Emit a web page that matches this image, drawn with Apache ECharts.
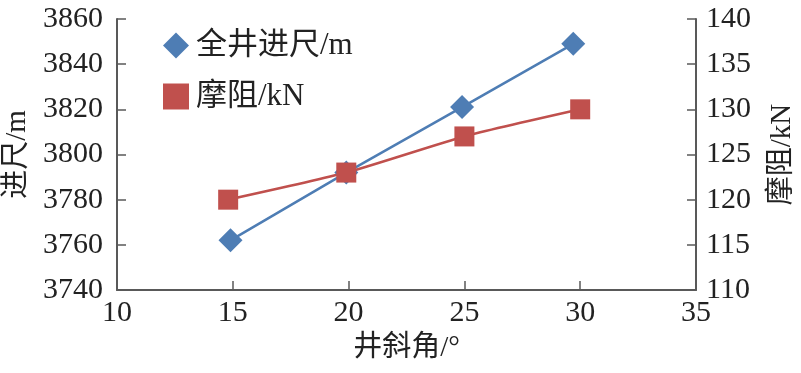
<!DOCTYPE html>
<html>
<head>
<meta charset="utf-8">
<script src="https://cdn.jsdelivr.net/npm/echarts@6/dist/echarts.min.js"></script>
<style>html,body{margin:0;padding:0;background:#fff}#c{width:801px;height:373px}</style>
</head>
<body>
<div id="c"></div>
<script>
// Data
const seriesNames = ['全井进尺/m', '摩阻/kN'];
const footageX = [14.9, 19.9, 24.9, 29.7];
const footageY = [3762, 3792, 3821, 3849];
const dragX = [14.8, 19.9, 25.0, 30.0];
const dragY = [120, 123, 127, 130];
const xName = '井斜角/°';
const yLeftName = '进尺/m';
const yRightName = '摩阻/kN';

const FONT = '"Liberation Serif", "Noto Sans CJK SC", serif';
const AX = '#595959';
const BLUE = '#4E7DB4';
const RED = '#C0504D';

const chart = echarts.init(document.getElementById('c'), null, {renderer: 'canvas'});
const pair = (xs, ys) => xs.map((x, i) => [x, ys[i]]);
const plain = v => String(v);

chart.setOption({
  animation: false,
  backgroundColor: '#fff',
  textStyle: {fontFamily: FONT},
  grid: {left: 117, right: 105, top: 19, bottom: 83, containLabel: false, outerBoundsMode: 'none'},
  legend: {
    orient: 'vertical', left: 158, top: 25, itemGap: 20,
    itemWidth: 26, itemHeight: 26,
    textStyle: {fontFamily: FONT, fontSize: 31, color: '#222', padding: [0,0,0,2]},
    data: [{name: seriesNames[0], icon: 'diamond'}, {name: seriesNames[1], icon: 'rect'}]
  },
  xAxis: {
    type: 'value', min: 10, max: 35, interval: 5,
    name: xName, nameLocation: 'middle', nameGap: 44,
    nameTextStyle: {fontFamily: FONT, fontSize: 29, color: '#222'},
    axisLine: {lineStyle: {color: AX, width: 2}},
    axisTick: {inside: true, length: 9, lineStyle: {color: AX, width: 1.5}},
    axisLabel: {fontFamily: FONT, fontSize: 30, color: '#222', margin: 8, formatter: plain},
    splitLine: {show: false}
  },
  yAxis: [{
    type: 'value', min: 3740, max: 3860, interval: 20,
    name: yLeftName, nameLocation: 'middle', nameRotate: 90, nameGap: 82,
    nameTextStyle: {fontFamily: FONT, fontSize: 29, color: '#222'},
    axisLine: {show: true, lineStyle: {color: AX, width: 2}},
    axisTick: {show: true, inside: true, length: 9, lineStyle: {color: AX, width: 1.5}},
    axisLabel: {fontFamily: FONT, fontSize: 30, color: '#222', margin: 14, formatter: plain},
    splitLine: {show: false}
  }, {
    type: 'value', min: 110, max: 140, interval: 5, position: 'right',
    name: yRightName, nameLocation: 'middle', nameRotate: 90, nameGap: 72,
    nameTextStyle: {fontFamily: FONT, fontSize: 29, color: '#222'},
    axisLine: {show: true, lineStyle: {color: AX, width: 2}},
    axisTick: {show: true, inside: true, length: 9, lineStyle: {color: AX, width: 1.5}},
    axisLabel: {fontFamily: FONT, fontSize: 30, color: '#222', margin: 10, formatter: plain},
    splitLine: {show: false}
  }],
  series: [{
    name: seriesNames[0], type: 'line', yAxisIndex: 0,
    data: pair(footageX, footageY),
    symbol: 'diamond', symbolSize: 24,
    lineStyle: {color: BLUE, width: 2.5}, itemStyle: {color: BLUE}
  }, {
    name: seriesNames[1], type: 'line', yAxisIndex: 1, smooth: 0.2,
    data: pair(dragX, dragY),
    symbol: 'rect', symbolSize: 20,
    lineStyle: {color: RED, width: 2.5}, itemStyle: {color: RED}
  }]
});
</script>
</body>
</html>
